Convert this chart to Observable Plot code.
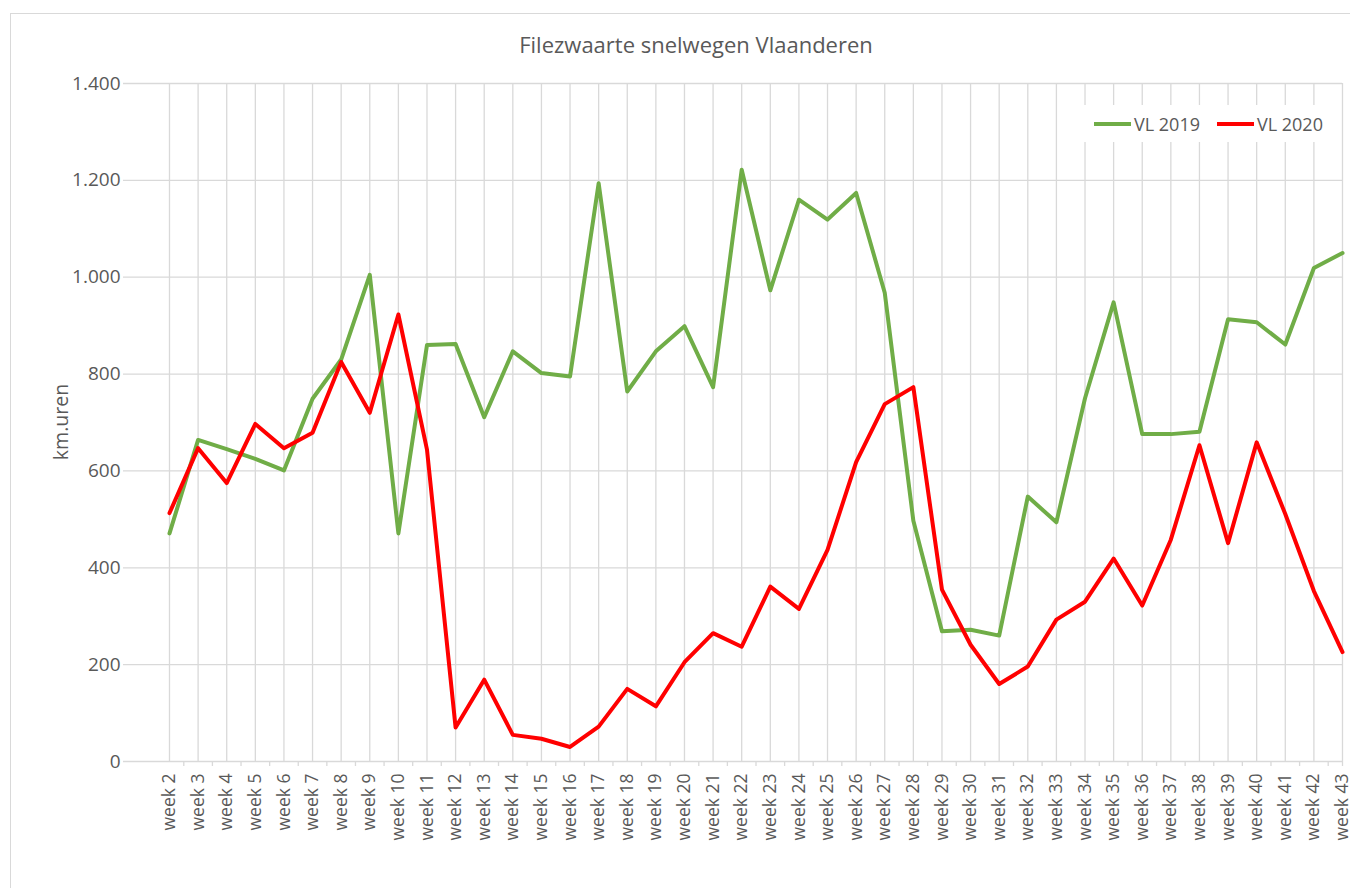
<!DOCTYPE html>
<html>
<head>
<meta charset="utf-8">
<script src="https://cdn.jsdelivr.net/npm/d3@7"></script>
<script src="https://cdn.jsdelivr.net/npm/@observablehq/plot@0.6"></script>
<style>
  html, body { margin: 0; padding: 0; background: #fff; overflow: hidden; }
  #page { position: relative; width: 1350px; height: 888px; overflow: hidden; font-family: "Open Sans", sans-serif; color: #595959; }
  #frame { position: absolute; left: 10px; top: 13px; width: 1345px; height: 880px; border-top: 1.5px solid #d9d9d9; border-left: 1.5px solid #d9d9d9; }
  #title { position: absolute; left: 0; top: 29px; width: 1392px; text-align: center; font-size: 22px; line-height: 30px; }
  #chart { position: absolute; left: 0; top: 60px; }
  #ylabel { position: absolute; left: 60px; top: 422px; transform: translate(-50%, -50%) rotate(-90deg); font-size: 19.5px; white-space: nowrap; }
  #legend { position: absolute; left: 1084px; top: 105px; width: 252px; height: 37px; background: #fff; display: flex; align-items: center; font-size: 18px; }
  .item { display: flex; align-items: center; margin-left: 10px; }
  .item + .item { margin-left: 17px; }
  .sw { display: inline-block; width: 37px; height: 4px; margin-right: 3px; }
</style>
</head>
<body>
<div id="page">
  <div id="frame"></div>
  <div id="title"></div>
  <div id="chart"></div>
  <div id="ylabel"></div>
  <div id="legend"></div>
</div>
<script>
const titleText = "Filezwaarte snelwegen Vlaanderen";
const yLabel = "km.uren";
const weeks = ["week 2","week 3","week 4","week 5","week 6","week 7","week 8","week 9","week 10","week 11",
  "week 12","week 13","week 14","week 15","week 16","week 17","week 18","week 19","week 20","week 21",
  "week 22","week 23","week 24","week 25","week 26","week 27","week 28","week 29","week 30","week 31",
  "week 32","week 33","week 34","week 35","week 36","week 37","week 38","week 39","week 40","week 41",
  "week 42","week 43"];
const vl2019 = [471, 664, 645, 625, 601, 749, 830, 1005, 471, 860,
  862, 711, 847, 802, 795, 1194, 764, 847, 899, 773,
  1222, 973, 1160, 1119, 1174, 968, 497, 269, 272, 260,
  547, 494, 750, 948, 676, 676, 681, 913, 907, 861,
  1019, 1050];
const vl2020 = [513, 647, 575, 697, 647, 679, 825, 720, 923, 644,
  70, 169, 55, 47, 30, 72, 150, 114, 205, 265,
  237, 361, 315, 437, 618, 738, 773, 355, 241, 160,
  196, 293, 330, 419, 322, 458, 653, 451, 659, 511,
  352, 226];
const seriesNames = ["VL 2019", "VL 2020"];
const seriesColors = ["#70ad47", "#ff0000"];
const yTicks = [0, 200, 400, 600, 800, 1000, 1200, 1400];

const weekNums = weeks.map(w => +w.replace("week ", ""));
const table = weeks.flatMap((w, i) => [
  {n: weekNums[i], value: vl2019[i], series: seriesNames[0]},
  {n: weekNums[i], value: vl2020[i], series: seriesNames[1]}
]);
const minorTicks = weekNums.slice(0, -1).map(n => n + 0.5).concat([weekNums[weekNums.length - 1]]);
const nl = d3.formatLocale({decimal: ",", thousands: ".", grouping: [3], currency: ["€", ""]});
const fmt = nl.format(",");
const grid = "#d9d9d9";

document.getElementById("title").textContent = titleText;
document.getElementById("ylabel").textContent = yLabel;
const legend = document.getElementById("legend");
seriesNames.forEach((s, i) => {
  const it = document.createElement("div");
  it.className = "item";
  it.innerHTML = `<span class="sw" style="background:${seriesColors[i]}"></span><span>${s}</span>`;
  legend.appendChild(it);
});

const chart = Plot.plot({
  width: 1350,
  height: 828,
  marginTop: 23,
  marginBottom: 127,
  marginLeft: 123,
  marginRight: 8,
  style: {fontFamily: "'Open Sans', sans-serif", fontSize: "17px", color: "#595959", background: "transparent", overflow: "visible"},
  x: {type: "linear", domain: [weekNums[0], weekNums[weekNums.length - 1]], insetLeft: 46},
  y: {domain: [0, 1400]},
  color: {domain: seriesNames, range: seriesColors},
  marks: [
    Plot.gridY(yTicks, {stroke: grid, strokeOpacity: 1, strokeWidth: 1.3}),
    Plot.gridX(weekNums, {stroke: grid, strokeOpacity: 1, strokeWidth: 1.3}),
    Plot.axisY(yTicks, {tickSize: 0, tickPadding: 3, tickFormat: fmt, label: null, fontSize: 19}),
    Plot.axisX(minorTicks, {tickSize: 5, tickFormat: () => "", stroke: grid, strokeWidth: 1.3, label: null}),
    Plot.axisX(weekNums, {tickSize: 0, tickPadding: 12, tickRotate: -90, fontSize: 17.5,
      tickFormat: d => weeks[weekNums.indexOf(d)], label: null}),
    Plot.line(table, {x: "n", y: "value", z: "series", stroke: "series", strokeWidth: 4, strokeLinejoin: "round"})
  ]
});
document.getElementById("chart").appendChild(chart);
</script>
</body>
</html>
